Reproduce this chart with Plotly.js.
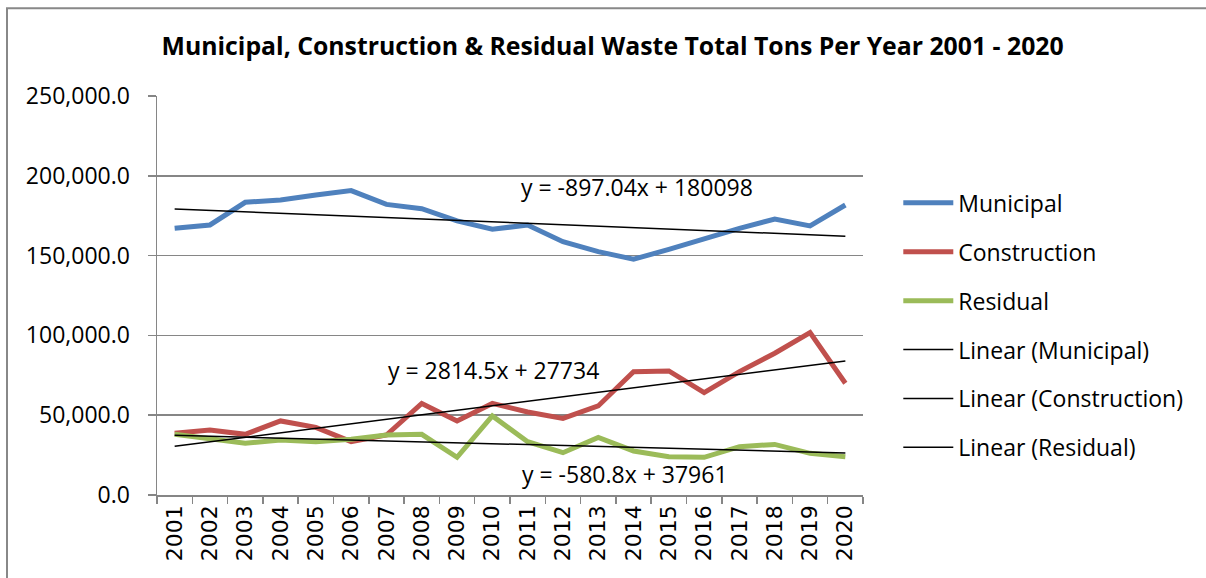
<!DOCTYPE html>
<html>
<head>
<meta charset="utf-8">
<script src="https://cdn.plot.ly/plotly-3.0.1.min.js"></script>
<style>
  html, body { margin: 0; padding: 0; background: #fff; }
  #chart { width: 1206px; height: 578px; }
</style>
</head>
<body>
<div id="chart"></div>
<script>
// Years on the category axis
const years = ["2001", "2002", "2003", "2004", "2005", "2006", "2007", "2008", "2009", "2010",
               "2011", "2012", "2013", "2014", "2015", "2016", "2017", "2018", "2019", "2020"];

// Tons per year
const municipal = [167100, 169200, 183400, 184800, 188000, 190700, 182100, 179400, 171700, 166500,
                   169200, 158700, 152500, 147700, 153900, 160800, 167100, 172900, 168600, 181700];
const construction = [38700, 40700, 38000, 46400, 42400, 33400, 37600, 57400, 46400, 57400,
                      52000, 48000, 55800, 77300, 77700, 64100, 77300, 88800, 101700, 70000];
const residual = [38000, 35500, 32400, 34500, 33400, 34900, 37600, 38000, 23600, 49500,
                  33400, 26500, 36100, 27600, 24000, 23600, 30300, 31700, 26100, 24000];

// Trendline equations shown on the chart (y = slope * x + intercept, x = 1..20)
const trendNames = ["Municipal", "Construction", "Residual"];
const trendSlopes = [-897.04, 2814.5, -580.8];
const trendIntercepts = [180098, 27734, 37961];
const trendLabels = ["y = -897.04x + 180098", "y = 2814.5x + 27734", "y = -580.8x + 37961"];

const trend = (k) => years.map((_, i) => trendSlopes[k] * (i + 1) + trendIntercepts[k]);

const lineFont = "Open Sans, sans-serif";

var traceMunicipal = {
    x: years, y: municipal, mode: "lines", name: "Municipal",
    line: { color: "#4F81BD", width: 5 }, legendgroup: "a"
};
var traceConstruction = {
    x: years, y: construction, mode: "lines", name: "Construction",
    line: { color: "#C0504D", width: 5 }, legendgroup: "b"
};
var traceResidual = {
    x: years, y: residual, mode: "lines", name: "Residual",
    line: { color: "#9BBB59", width: 5 }, legendgroup: "c"
};

var trendTraces = trendNames.map((n, k) => ({
    x: years, y: trend(k), mode: "lines", name: "Linear (" + n + ")",
    line: { color: "#000000", width: 1.5 }, legendgroup: "t" + k
}));

var data = [traceMunicipal, traceConstruction, traceResidual].concat(trendTraces);

// equation labels, placed near each trendline
var labelPos = [[13.1, 193000], [9.02, 78300], [12.76, 13200]];
var annotations = trendLabels.map((t, k) => ({
    x: labelPos[k][0], y: labelPos[k][1], xref: "x", yref: "y",
    text: t, showarrow: false,
    font: { family: lineFont, size: 23, color: "#000" }
}));

var layout = {
    width: 1206,
    height: 578,
    paper_bgcolor: "#fff",
    plot_bgcolor: "#fff",
    margin: { l: 157, r: 343, t: 96, b: 83 },
    title: {
        text: "<b>Municipal, Construction & Residual Waste Total Tons Per Year 2001 - 2020</b>",
        font: { family: lineFont, size: 24.8, color: "#000" },
        x: 0.508, xanchor: "center", y: 0.919, yanchor: "middle"
    },
    xaxis: {
        type: "category",
        range: [-0.5, 19.5],
        tickson: "boundaries",
        ticks: "outside", ticklen: 7, tickcolor: "#868686", tickwidth: 1.5,
        showline: true, linecolor: "#868686", linewidth: 1.5,
        showgrid: false,
        tickangle: -90,
        tickfont: { family: "DejaVu Sans, sans-serif", size: 22, color: "#000" }
    },
    yaxis: {
        range: [0, 250000],
        dtick: 50000,
        tickformat: ",.1f",
        ticks: "outside", ticklen: 8, tickcolor: "#868686", tickwidth: 1.5,
        ticklabelstandoff: 13,
        showline: true, linecolor: "#868686", linewidth: 1.5,
        showgrid: true, gridcolor: "#868686", gridwidth: 1.5,
        zeroline: false,
        tickfont: { family: lineFont, size: 23, color: "#000" }
    },
    legend: {
        x: 1.05, xanchor: "left", y: 0.786, yanchor: "top",
        traceorder: "grouped", tracegroupgap: 16,
        itemwidth: 50,
        font: { family: lineFont, size: 23, color: "#000" },
        bgcolor: "rgba(0,0,0,0)"
    },
    annotations: annotations,
    shapes: [{
        type: "rect", xref: "paper", yref: "paper",
        x0: (7 - 157) / 706, x1: 1.7, y0: -0.4, y1: (495 - 8) / 399.3,
        line: { color: "#888888", width: 2 }
    }],
    showlegend: true
};

Plotly.newPlot("chart", data, layout, { staticPlot: true });
</script>
</body>
</html>
